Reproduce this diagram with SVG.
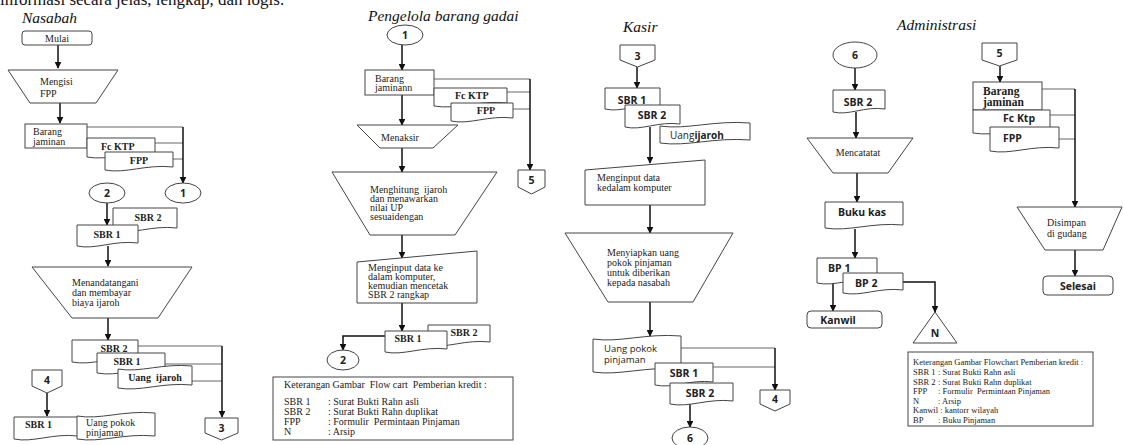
<svg xmlns="http://www.w3.org/2000/svg" width="1124" height="445" viewBox="0 0 1124 445">
<defs>
<style>
.sh{fill:#fff;stroke:#444;stroke-width:1}
.cn{fill:none;stroke:#555;stroke-width:0.9}
.ar{fill:none;stroke:#111;stroke-width:1.5;marker-end:url(#ah)}
.tt{font-family:"Liberation Serif","Times New Roman",serif;font-style:italic;font-size:15.5px;fill:#111}
.s{font-family:"Liberation Serif","Times New Roman",serif;font-size:10px;fill:#222}
.sb{font-family:"Liberation Serif","Times New Roman",serif;font-size:10px;font-weight:bold;fill:#222}
.a{font-family:"Open Sans","Liberation Sans",sans-serif;font-weight:700;font-size:10.5px;fill:#222}
.ar0{font-family:"Open Sans","Liberation Sans",sans-serif;font-size:9.5px;fill:#222}
.lg{font-family:"Liberation Serif","Times New Roman",serif;font-size:10px;fill:#222}
.lg2{font-family:"Liberation Serif","Times New Roman",serif;font-size:8.5px;fill:#222}
.c{text-anchor:middle}
</style>
<marker id="ah" viewBox="0 0 10 10" refX="9" refY="5" markerWidth="4.5" markerHeight="4.5" orient="auto" markerUnits="strokeWidth"><path d="M0,0L10,5L0,10z" fill="#111"/></marker>
</defs>
<rect width="1124" height="445" fill="#fff"/>
<text x="0" y="4.5" font-family="Liberation Serif, serif" font-size="17" fill="#111">informasi secara jelas, lengkap, dan logis.</text>

<g id="titles">
<text class="tt" x="22" y="22.5">Nasabah</text>
<text class="tt" x="368" y="20.5">Pengelola barang gadai</text>
<text class="tt" x="623" y="32">Kasir</text>
<text class="tt" x="897" y="30">Administrasi</text>
</g>

<g id="connectors">
<!-- Nasabah -->
<path class="ar" d="M58,45V68"/>
<path class="ar" d="M60,103V123"/>
<path class="cn" d="M87,127H183M155,143H183M173,159H183"/>
<path class="ar" d="M183,127V183"/>
<path class="ar" d="M107,203V225"/>
<path class="ar" d="M108,246V266"/>
<path class="ar" d="M108,318V340"/>
<path class="cn" d="M138,346H222M165,364H222M192,381H222"/>
<path class="ar" d="M222,346V417"/>
<path class="ar" d="M47,393V416"/>
<!-- Pengelola -->
<path class="ar" d="M402,45V70"/>
<path class="cn" d="M434,79H530M507,92H530M513,109H530"/>
<path class="ar" d="M530,79V170"/>
<path class="ar" d="M402,95V125"/>
<path class="ar" d="M402,148V172"/>
<path class="ar" d="M402,235V258"/>
<path class="ar" d="M402,303V331"/>
<path class="ar" d="M385,336H343V350"/>
<!-- Kasir -->
<path class="ar" d="M637,67V88"/>
<path class="ar" d="M650,127V163"/>
<path class="ar" d="M650,205V233"/>
<path class="ar" d="M650,302V336"/>
<path class="cn" d="M681,348H775M713,367H775"/>
<path class="ar" d="M775,348V390"/>
<path class="ar" d="M690,404V427"/>
<!-- Administrasi -->
<path class="ar" d="M855,68V90"/>
<path class="ar" d="M856,112V138"/>
<path class="ar" d="M857,173V202"/>
<path class="ar" d="M855,229V258"/>
<path class="ar" d="M833,283V311"/>
<path class="ar" d="M903,282H935V312"/>
<path class="ar" d="M1000,66V82"/>
<path class="cn" d="M1042,89H1075M1050,115H1075M1059,139H1075"/>
<path class="ar" d="M1075,89V207"/>
<path class="ar" d="M1075,250V276"/>
</g>

<!-- Nasabah column -->
<g id="mulai"><rect class="sh" x="22" y="31" width="70" height="14" rx="3"/><text class="s c" x="57" y="41.5">Mulai</text></g>
<g id="mengisi-fpp"><polygon class="sh" points="8,70 118,70 96,103 30,103"/><text class="s" x="40" y="85">Mengisi</text><text class="s" x="40" y="97">FPP</text></g>
<g id="nas-barang"><rect class="sh" x="25" y="124" width="62" height="24"/><text class="s" x="33" y="135">Barang</text><text class="s" x="33" y="145">jaminan</text></g>
<g id="nas-fcktp"><path class="sh" d="M87,138h68v16c-27.2,-3 -47.6,7 -68,3z"/><text class="sb" x="101" y="150">Fc KTP</text></g>
<g id="nas-fpp"><path class="sh" d="M105,152h68v15c-27.2,-3 -47.6,7 -68,3z"/><text class="sb c" x="139" y="164">FPP</text></g>
<g id="nas-c1"><ellipse class="sh" cx="183" cy="193" rx="18" ry="10"/><text class="a c" x="183" y="197">1</text></g>
<g id="nas-c2"><ellipse class="sh" cx="107" cy="193" rx="18" ry="10"/><text class="a c" x="107" y="197">2</text></g>
<g id="nas-sbr2a"><path class="sh" d="M113,208h64v20c-25.6,-3 -44.8,7 -64,3z"/><text class="sb c" x="148" y="221">SBR 2</text></g>
<g id="nas-sbr1a"><path class="sh" d="M77,225h61v18c-24.4,-3 -42.7,7 -61,3z"/><text class="sb c" x="107" y="238">SBR 1</text></g>
<g id="menandatangani"><polygon class="sh" points="32,267 192,267 158,318 72,318"/><text class="s" x="72" y="286">Menandatangani</text><text class="s" x="72" y="296">dan membayar</text><text class="s" x="72" y="306">biaya ijaroh</text></g>
<g id="nas-sbr2b"><path class="sh" d="M72,340h66v19c-26.4,-3 -46.2,7 -66,3z"/><text class="sb c" x="114" y="352">SBR 2</text></g>
<g id="nas-sbr1b"><path class="sh" d="M97,353h68v17c-27.2,-3 -47.6,7 -68,3z"/><text class="sb c" x="127" y="365">SBR 1</text></g>
<g id="nas-uangijaroh"><path class="sh" d="M118,369c22.2,4 44.4,-6 74,-3v19c-29.6,-3 -51.8,7 -74,3z"/><text class="sb c" x="155" y="381" xml:space="preserve">Uang  ijaroh</text></g>
<g id="nas-off3"><polygon class="sh" points="205,418 238,418 238,433 221.5,440 205,433"/><text class="a c" x="221.5" y="432">3</text></g>
<g id="nas-off4"><polygon class="sh" points="32,370 62,370 62,386 47,393 32,386"/><text class="a c" x="47" y="384">4</text></g>
<g id="nas-sbr1c"><path class="sh" d="M14,417h64v19c-25.6,-3 -44.8,7 -64,3z"/><text class="sb" x="25" y="428">SBR 1</text></g>
<g id="nas-uangpokok"><path class="sh" d="M77,416c23.4,4 46.8,-6 78,-3v23c-31.2,-3 -54.6,7 -78,3z"/><text class="s" x="86" y="426">Uang pokok</text><text class="s" x="86" y="436">pinjaman</text></g>

<!-- Pengelola column -->
<g id="pen-c1"><ellipse class="sh" cx="405" cy="35" rx="18" ry="10"/><text class="a c" x="405" y="39">1</text></g>
<g id="pen-barang"><rect class="sh" x="365" y="70" width="69" height="25"/><text class="s" x="375" y="82">Barang</text><text class="s" x="375" y="91">jaminann</text></g>
<g id="pen-fcktp"><path class="sh" d="M434,88h73v15c-29.2,-3 -51.1,7 -73,3z"/><text class="sb" x="455" y="99">Fc KTP</text></g>
<g id="pen-fpp"><path class="sh" d="M451,103h62v15c-24.8,-3 -43.4,7 -62,3z"/><text class="sb c" x="486" y="114">FPP</text></g>
<g id="pen-off5"><polygon class="sh" points="518,170 545,170 545,187 531.5,194 518,187"/><text class="a c" x="531.5" y="184">5</text></g>
<g id="menaksir"><polygon class="sh" points="357,125 458,125 433,148 380,148"/><text class="s c" x="400" y="141">Menaksir</text></g>
<g id="menghitung"><polygon class="sh" points="332,172 497,172 455,235 370,235"/><text class="s" x="370" y="193" xml:space="preserve">Menghitung  ijaroh</text><text class="s" x="370" y="202">dan menawarkan</text><text class="s" x="370" y="211">nilai UP</text><text class="s" x="370" y="220">sesuaidengan</text></g>
<g id="pen-input"><polygon class="sh" points="357,262 477,251 477,303 357,303"/><text class="s" x="368" y="271">Menginput data ke</text><text class="s" x="368" y="280">dalam komputer,</text><text class="s" x="368" y="289">kemudian mencetak</text><text class="s" x="368" y="298">SBR 2 rangkap</text></g>
<g id="pen-sbr2"><path class="sh" d="M428,325h62v17c-24.8,-3 -43.4,7 -62,3z"/><text class="sb c" x="464" y="336">SBR 2</text></g>
<g id="pen-sbr1"><path class="sh" d="M385,331h62v18c-24.8,-3 -43.4,7 -62,3z"/><text class="sb c" x="408" y="342">SBR 1</text></g>
<g id="pen-c2"><ellipse class="sh" cx="343" cy="360" rx="16" ry="10"/><text class="a c" x="343" y="364">2</text></g>
<g id="legend1"><rect class="sh" x="273" y="377" width="240" height="63"/>
<text class="lg" x="284" y="388" xml:space="preserve">Keterangan Gambar  Flow cart  Pemberian kredit :</text>
<text class="lg" x="284" y="405">SBR 1</text><text class="lg" x="328" y="405">: Surat Bukti Rahn asli</text>
<text class="lg" x="284" y="415">SBR 2</text><text class="lg" x="328" y="415">: Surat Bukti Rahn duplikat</text>
<text class="lg" x="284" y="425">FPP</text><text class="lg" x="328" y="425" xml:space="preserve">: Formulir  Permintaan Pinjaman</text>
<text class="lg" x="284" y="435">N</text><text class="lg" x="328" y="435">: Arsip</text></g>

<!-- Kasir column -->
<g id="kas-off3"><polygon class="sh" points="620,45 655,45 655,60 637.5,67 620,60"/><text class="a c" x="637.5" y="60">3</text></g>
<g id="kas-sbr1"><path class="sh" d="M605,88h55v18c-22,-3 -38.5,7 -55,3z"/><text class="a c" x="632" y="104">SBR 1</text></g>
<g id="kas-sbr2"><path class="sh" d="M625,105h55v19c-22,-3 -38.5,7 -55,3z"/><text class="a c" x="652" y="119">SBR 2</text></g>
<g id="kas-uangijaroh"><path class="sh" d="M660,126c27,4 54,-6 90,-3v17c-36,-3 -63,7 -90,3z"/><text class="ar0" x="670" y="139" style="font-size:10px">Uang<tspan font-weight="700">ijaroh</tspan></text></g>
<g id="kas-input"><polygon class="sh" points="585,170 705,160 705,205 585,205"/><text class="s" x="597" y="181">Menginput data</text><text class="s" x="597" y="191">kedalam komputer</text></g>
<g id="kas-menyiapkan"><polygon class="sh" points="565,233 733,233 693,302 608,302"/><text class="s" x="607" y="256">Menyiapkan uang</text><text class="s" x="607" y="266">pokok pinjaman</text><text class="s" x="607" y="276">untuk diberikan</text><text class="s" x="607" y="286">kepada nasabah</text></g>
<g id="kas-uangpokok"><path class="sh" d="M593,339c26.4,4 52.8,-6 88,-3v33c-35.2,-3 -61.6,7 -88,3z"/><text class="ar0" x="604" y="352">Uang pokok</text><text class="ar0" x="604" y="363">pinjaman</text></g>
<g id="kas-sbr1b"><path class="sh" d="M655,363h58v19c-23.2,-3 -40.6,7 -58,3z"/><text class="a c" x="684" y="377">SBR 1</text></g>
<g id="kas-sbr2b"><path class="sh" d="M670,383h63v18c-25.2,-3 -44.1,7 -63,3z"/><text class="a c" x="700" y="397">SBR 2</text></g>
<g id="kas-off4"><polygon class="sh" points="760,390 790,390 790,404 775,411 760,404"/><text class="a c" x="775" y="403">4</text></g>
<g id="kas-c6"><ellipse class="sh" cx="690" cy="438" rx="18" ry="11"/><text class="a c" x="690" y="442">6</text></g>

<!-- Administrasi column -->
<g id="adm-c6"><ellipse class="sh" cx="855" cy="55" rx="22" ry="13"/><text class="a c" x="855" y="59">6</text></g>
<g id="adm-sbr2"><path class="sh" d="M833,90h52v19c-20.8,-3 -36.4,7 -52,3z"/><text class="a c" x="858" y="106">SBR 2</text></g>
<g id="mencatatat"><polygon class="sh" points="807,138 913,138 888,173 833,173"/><text class="s c" x="858" y="156">Mencatatat</text></g>
<g id="bukukas"><path class="sh" d="M825,202h78v23c-31.2,-3 -54.6,7 -78,3z"/><text class="a c" x="862" y="216">Buku kas</text></g>
<g id="bp1"><path class="sh" d="M817,258h60v22c-24,-3 -42,7 -60,3z"/><text class="a" x="828" y="272">BP 1</text></g>
<g id="bp2"><path class="sh" d="M843,273h60v17c-24,-3 -42,7 -60,3z"/><text class="a" x="855" y="287">BP 2</text></g>
<g id="kanwil"><rect class="sh" x="807" y="311" width="75" height="17" rx="4"/><text class="a c" x="838" y="324">Kanwil</text></g>
<g id="arsip-n"><polygon class="sh" points="935,312 957,343 913,343"/><text class="a c" x="935" y="337">N</text></g>
<g id="legend2"><rect class="sh" x="908" y="352" width="185" height="74"/>
<text class="lg2" x="913" y="365">Keterangan Gambar Flowchart Pemberian kredit :</text>
<text class="lg2" x="913" y="375">SBR 1</text><text class="lg2" x="938" y="375">: Surat Bukti Rahn asli</text>
<text class="lg2" x="913" y="384.5">SBR 2</text><text class="lg2" x="938" y="384.5">: Surat Bukti Rahn duplikat</text>
<text class="lg2" x="913" y="394">FPP</text><text class="lg2" x="938" y="394" xml:space="preserve">: Formulir  Permintaan Pinjaman</text>
<text class="lg2" x="913" y="403.5">N</text><text class="lg2" x="938" y="403.5">: Arsip</text>
<text class="lg2" x="913" y="413">Kanwil : kantorr wilayah</text>
<text class="lg2" x="913" y="422.5">BP</text><text class="lg2" x="938" y="422.5">: Buku Pinjaman</text></g>
<g id="adm-off5"><polygon class="sh" points="982,43 1017,43 1017,60 999.5,66 982,60"/><text class="a c" x="999.5" y="57">5</text></g>
<g id="adm-barang"><rect class="sh" x="973" y="82" width="69" height="28"/><text class="sb" x="983" y="95" style="font-size:11.5px">Barang</text><text class="sb" x="983" y="106" style="font-size:11.5px">jaminan</text></g>
<g id="adm-fcktp"><path class="sh" d="M973,110h77v20c-30.8,-3 -53.9,7 -77,3z"/><text class="a" x="1003" y="122">Fc Ktp</text></g>
<g id="adm-fpp"><path class="sh" d="M990,127h69v21c-27.6,-3 -48.3,7 -69,3z"/><text class="a" x="1003" y="142">FPP</text></g>
<g id="disimpan"><polygon class="sh" points="1017,207 1122,207 1103,250 1045,250"/><text class="s" x="1047" y="226">Disimpan</text><text class="s" x="1047" y="237">di gudang</text></g>
<g id="selesai"><rect class="sh" x="1043" y="276" width="70" height="19" rx="4"/><text class="a c" x="1078" y="290">Selesai</text></g>
</svg>
